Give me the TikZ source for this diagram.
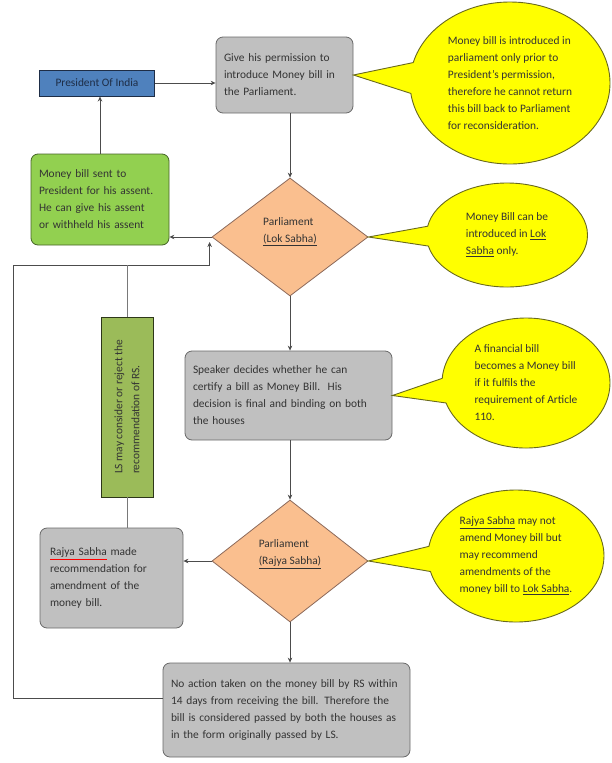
\documentclass[tikz,border=0pt]{standalone}
\usepackage{fontspec}
\setmainfont{Carlito}
\usetikzlibrary{shapes.geometric,shapes.callouts,arrows.meta,calc}
\definecolor{presfill}{RGB}{79,129,189}
\definecolor{presline}{RGB}{30,45,70}
\definecolor{boxfill}{RGB}{192,192,192}
\definecolor{boxline}{RGB}{105,105,105}
\definecolor{assentfill}{RGB}{146,208,80}
\definecolor{assentline}{RGB}{70,100,40}
\definecolor{lsfill}{RGB}{155,187,89}
\definecolor{lsline}{RGB}{45,55,25}
\definecolor{housefill}{RGB}{250,191,143}
\definecolor{houseline}{RGB}{140,105,90}
\definecolor{notefill}{RGB}{255,255,0}
\definecolor{noteline}{RGB}{105,105,30}
\definecolor{wirecol}{gray}{0.3}
\definecolor{txtcol}{gray}{0.2}
\newcommand{\boxfont}{\fontsize{11.4}{17}\selectfont}
\newcommand{\redul}[1]{{\color{red}$\underline{\hbox{\color{txtcol}#1}}$}}
\tikzset{
  box/.style={draw=boxline,fill=boxfill,rounded corners=7pt,line width=0.8pt,align=left,font=\boxfont,text=txtcol,inner xsep=8pt,inner ysep=4pt},
  pres/.style={draw=presline,fill=presfill,line width=1pt,font=\boxfont,text=presline,minimum width=115pt,minimum height=26pt,inner sep=0pt},
  house/.style={diamond,draw=houseline,fill=housefill,line width=0.8pt,font=\boxfont,text=txtcol,align=left,inner sep=0pt,minimum width=156pt},
  note/.style={ellipse callout,draw=noteline,fill=notefill,line width=0.9pt,font=\boxfont,text=txtcol,align=left,inner sep=0pt,callout pointer arc=22},
  arr/.style={draw=wirecol,line width=0.7pt,-{Stealth[length=5pt,width=4.5pt]}},
  wire/.style={draw=wirecol!75,line width=0.8pt},
}
\begin{document}
\begin{tikzpicture}[x=1pt,y=1pt]
  \useasboundingbox (0,0) rectangle (611,-763);
  % president and permission
  \node[pres] (pres) at (97,-83) {President Of India};
  \node[box,text width=121pt,minimum height=76pt] (perm) at (284.5,-75) {Give his permission to\\introduce Money bill in\\the Parliament.};
  \node[note,minimum width=200pt,minimum height=162pt,callout absolute pointer={(perm.east)}] (note1) at (510,-83) {Money bill is introduced in\\parliament only prior to\\President's permission,\\therefore he cannot return\\this bill back to Parliament\\for reconsideration.};
  % lok sabha
  \node[box,fill=assentfill,draw=assentline,text width=122pt,minimum height=91pt] (sent) at (100,-199.5) {Money bill sent to\\President for his assent.\\He can give his assent\\or withheld his assent};
  \node[house,minimum height=118pt,text depth=14pt] (lok) at (290,-237) {Parliament\\\underline{(Lok Sabha)}};
  \node[note,minimum width=161pt,minimum height=104pt,callout absolute pointer={(lok.east)}] (note2) at (507,-235) {Money Bill can be\\introduced in \underline{Lok}\\\underline{Sabha} only.};
  % speaker
  \node[box,text width=191pt,minimum height=89pt] (speaker) at (288.5,-395.5) {Speaker decides whether he can\\certify a bill as Money Bill.\ \ His\\decision is final and binding on both\\the houses};
  \node[note,minimum width=168pt,minimum height=130pt,callout absolute pointer={(speaker.east)}] (note3) at (526,-383) {A financial bill\\becomes a Money bill\\if it fulfils the\\requirement of Article\\110.};
  % rajya sabha
  \node[house,minimum height=122pt,text depth=18pt] (rs) at (290,-561) {Parliament\\\underline{(Rajya Sabha)}};
  \node[note,minimum width=176pt,minimum height=132pt,callout absolute pointer={(rs.east)}] (note4) at (516,-556) {\underline{Rajya Sabha} may not\\amend Money bill but\\may recommend\\amendments of the\\money bill to \underline{Lok Sabha}.};
  \node[box,text width=123pt,minimum height=100pt,inner xsep=10pt] (rec) at (111.5,-578) {\redul{Rajya Sabha} made\\recommendation for\\amendment of the\\money bill.};
  \node[draw=lsline,fill=lsfill,line width=0.9pt,rotate=90,minimum width=180pt,minimum height=52pt,inner sep=0pt,align=left,font=\boxfont,text=txtcol] (ls) at (127,-407) {LS may consider or reject the\\recommendation of RS.};
  \node[box,text width=231pt,minimum height=94pt] (final) at (286.5,-710) {No action taken on the money bill by RS within\\14 days from receiving the bill. Therefore the\\bill is considered passed by both the houses as\\in the form originally passed by LS.};
  % connectors
  \coordinate (back) at (13,-265);
  \draw[arr] (pres.east) -- (pres.east -| perm.west);
  \draw[arr] (lok.north |- perm.south) -- (lok.north);
  \draw[arr] (lok.west) -- (lok.west -| sent.east);
  \draw[arr] (sent.north) -- (sent.north |- pres.south);
  \draw[arr] (lok.south) -- (lok.south |- speaker.north);
  \draw[arr] (rs.north |- speaker.south) -- (rs.north);
  \draw[arr] (rs.west) -- (rs.west -| rec.east);
  \draw[arr] (rs.south) -- (rs.south |- final.north);
  \draw[arr] ([yshift=12pt]final.west) -| (back) -| ($(lok.west)+(-2,-5)$);
  \draw[wire] (rec.north -| ls.west) -- (ls.west);
  \draw[wire] (ls.east) -- (ls.east |- back);
\end{tikzpicture}
\end{document}
